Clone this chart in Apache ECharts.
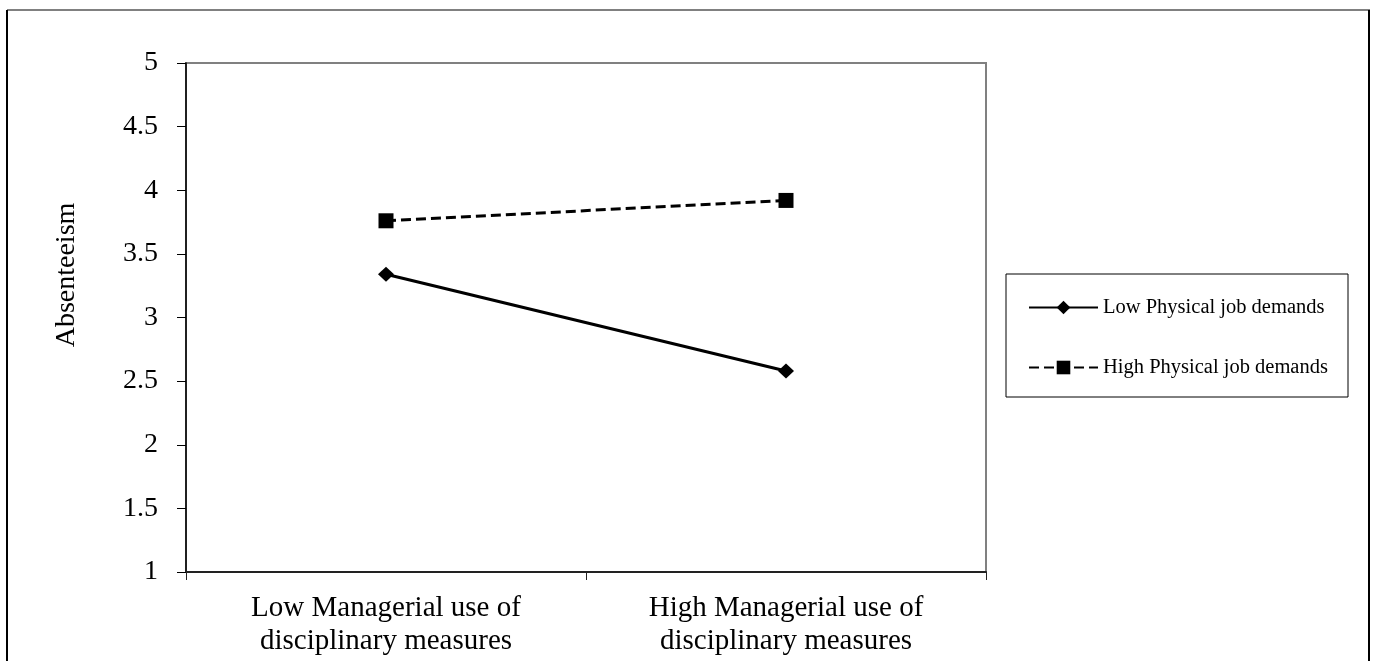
<!DOCTYPE html>
<html>
<head>
<meta charset="utf-8">
<script src="https://cdn.jsdelivr.net/npm/echarts@6/dist/echarts.min.js"></script>
<style>
html,body{margin:0;padding:0;background:#fff;}
#chart{width:1377px;height:661px;}
</style>
</head>
<body>
<div id="chart"></div>
<script>
var categories = ['Low Managerial use of\ndisciplinary measures', 'High Managerial use of\ndisciplinary measures'];
var lowPhysical = [3.34, 2.58];
var highPhysical = [3.76, 3.92];
var seriesNames = ['Low Physical job demands', 'High Physical job demands'];
var yAxisTitle = 'Absenteeism';

var FONT = '"Liberation Serif", "Times New Roman", serif';
var chart = echarts.init(document.getElementById('chart'), null, {renderer: 'canvas'});
chart.setOption({
  backgroundColor: '#fff',
  animation: false,
  grid: {left: 186, right: 391, top: 63, bottom: 89, show: true, borderColor: '#808080', borderWidth: 2},
  legend: {
    orient: 'vertical', left: 1023, top: 292, itemGap: 39,
    itemWidth: 69, itemHeight: 17,
    textStyle: {fontFamily: FONT, fontSize: 20.5, color: '#000'},
    data: seriesNames
  },
  xAxis: {
    type: 'category', data: categories, boundaryGap: true,
    axisLine: {lineStyle: {color: '#222', width: 2}},
    axisTick: {show: true, length: 8, lineStyle: {color: '#222', width: 1}},
    axisLabel: {fontFamily: FONT, fontSize: 29, color: '#000', margin: 20, lineHeight: 33},
    splitLine: {show: false}
  },
  yAxis: {
    type: 'value', min: 1, max: 5, interval: 0.5,
    axisLine: {show: true, lineStyle: {color: '#000', width: 1.5}},
    axisTick: {show: true, length: 9, lineStyle: {color: '#000', width: 1}},
    axisLabel: {fontFamily: FONT, fontSize: 28, color: '#000', margin: 28},
    splitLine: {show: false}
  },
  graphic: [
    {type: 'line', shape: {x1: 7, y1: 10, x2: 1370, y2: 10}, style: {stroke: '#808080', lineWidth: 2}, silent: true},
    {type: 'line', shape: {x1: 7, y1: 10, x2: 7, y2: 661}, style: {stroke: '#000', lineWidth: 2}, silent: true},
    {type: 'line', shape: {x1: 1369, y1: 10, x2: 1369, y2: 661}, style: {stroke: '#000', lineWidth: 2}, silent: true},
    {type: 'rect', shape: {x: 1006, y: 274, width: 342, height: 123}, style: {fill: 'none', stroke: '#000', lineWidth: 1}, z: 0, silent: true},
    {type: 'text', x: 67, y: 275, rotation: Math.PI / 2,
     style: {text: yAxisTitle, fontFamily: FONT, fontSize: 28, fill: '#000', align: 'center', verticalAlign: 'middle'}, silent: true}
  ],
  series: [
    {
      name: seriesNames[0], type: 'line', data: lowPhysical,
      symbol: 'diamond', symbolSize: [16, 15],
      lineStyle: {color: '#000', width: 3, type: 'solid'},
      itemStyle: {color: '#000'}
    },
    {
      name: seriesNames[1], type: 'line', data: highPhysical,
      symbol: 'rect', symbolSize: 15,
      lineStyle: {color: '#000', width: 3, type: [10, 5]},
      itemStyle: {color: '#000'}
    }
  ]
});
</script>
</body>
</html>
